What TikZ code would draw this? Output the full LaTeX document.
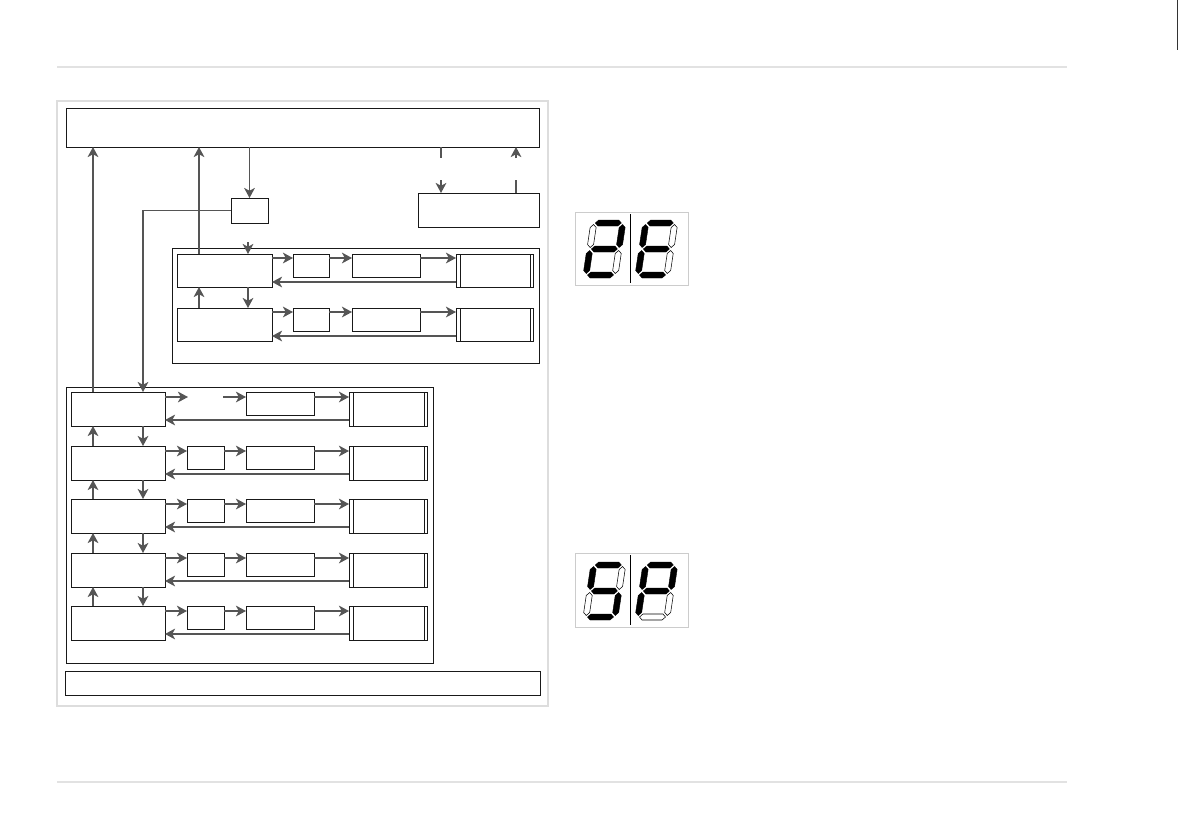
\documentclass[tikz,border=0pt]{standalone}
\usetikzlibrary{arrows.meta,fit,calc}
\definecolor{arrcol}{HTML}{555555}
\definecolor{framecol}{HTML}{DDDDDD}
\definecolor{rulecol}{HTML}{E2E2E2}
\definecolor{dispcol}{HTML}{CCCCCC}
\tikzset{
 bx/.style={draw=black!90, line width=0.7pt, inner sep=0pt, outer sep=0pt},
 arr/.style={draw=arrcol, line width=1.2pt, -{Stealth[length=7.5pt,width=8pt,inset=2pt]}},
 ln/.style={draw=arrcol, line width=1.2pt},
 segon/.style={fill=black, draw=black, line width=0.3pt},
 segoff/.style={fill=white, draw=black, line width=0.4pt},
 framebx/.style={draw=framecol, line width=0.8pt, inner sep=0pt, outer sep=0pt},
 dispbx/.style={draw=dispcol, line width=0.6pt, inner sep=0pt, outer sep=0pt},
}
\newcommand{\mkbox}[5]{\node[bx, fit={(#2,#3) (#4,#5)}] (#1) {};}
\newcommand{\mkdbox}[5]{\mkbox{#1}{#2}{#3}{#4}{#5}%
 \draw[black!90, line width=0.7pt] ([xshift=3pt]#1.north west) -- ([xshift=3pt]#1.south west);%
 \draw[black!90, line width=0.7pt] ([xshift=-2.25pt]#1.north east) -- ([xshift=-2.25pt]#1.south east);}
\newcommand{\hseg}[2]{\path[#1] (1.5,#2) -- (4.5,#2+3) -- (24.5,#2+3) -- (27.5,#2) -- (24.5,#2-3) -- (4.5,#2-3) -- cycle;}
\newcommand{\vseg}[3]{\path[#1] (#2,#3) -- (#2+3,#3+3) -- (#2+3,#3+20) -- (#2,#3+23) -- (#2-3,#3+20) -- (#2-3,#3+3) -- cycle;}
\newcommand{\segdigit}[9]{%
 \begin{scope}[shift={(#1,#2)}, yscale=-1, xslant=-0.15]
 \hseg{#3}{52} \vseg{#4}{29}{27.5} \vseg{#5}{29}{1.5} \hseg{#6}{0}
 \vseg{#7}{0}{1.5} \vseg{#8}{0}{27.5} \hseg{#9}{26}
 \end{scope}}
\begin{document}
\begin{tikzpicture}[x=0.75pt,y=-0.75pt]
\useasboundingbox (0,0) rectangle (1191,839);
% page rules
\coordinate (hl) at (57,67); \coordinate (hr) at (1067,67);
\coordinate (fl) at (57,782); \coordinate (fr) at (1067,782);
\draw[rulecol, line width=0.8pt] (hl) -- (hr);
\draw[rulecol, line width=0.8pt] (fl) -- (fr);
\coordinate (ct) at (1177,0); \coordinate (cb) at (1177,50);
\draw[black!80, line width=0.6pt] (ct) -- (cb);
% outer frame
\node[framebx, fit={(57,101) (548,706)}] (F) {};
% top and bottom boxes
\mkbox{T}{66}{108}{539}{147}
\mkbox{Bt}{65}{671}{540}{695}
\mkbox{S}{231}{198}{268}{223}
\mkbox{R}{418}{193}{539}{227}
% group 1
\mkbox{G1}{172}{248}{539}{363}
\foreach \n/\t in {A/254,B/308}{
 \mkbox{\n}{177}{\t}{272}{\t+33}
 \mkbox{\n s}{293}{\t}{329}{\t+23}
 \mkbox{\n m}{352}{\t}{420}{\t+23}
 \mkdbox{\n r}{456}{\t}{533}{\t+33}
 \draw[arr] ($(\n.north east)+(0,4)$) -- ($(\n s.north west)+(0,4)$);
 \draw[arr] ($(\n s.north east)+(0,4)$) -- ($(\n m.north west)+(0,4)$);
 \draw[arr] ($(\n m.north east)+(0,4)$) -- ($(\n r.north west)+(0,4)$);
 \draw[arr] ($(\n r.north west)+(0,28)$) -- ($(\n.north east)+(0,28)$);
}
\draw[arr] ($(B.north west)+(22,0)$) -- ($(A.south west)+(22,0)$);
\draw[arr] ($(A.south west)+(71,0)$) -- ($(B.north west)+(71,0)$);
% group 2
\mkbox{G2}{66}{387}{433}{663}
\mkbox{L1}{71}{392}{165}{426}
\mkbox{Lm1}{246}{392}{314}{415}
\mkdbox{Lr1}{349}{392}{427}{426}
\coordinate (g1) at (188,397); \coordinate (g2) at (223,397);
\draw[arr] ($(L1.north east)+(0,5)$) -- (g1);
\draw[arr] (g2) -- ($(Lm1.north west)+(0,5)$);
\draw[arr] ($(Lm1.north east)+(0,5)$) -- ($(Lr1.north west)+(0,5)$);
\draw[arr] ($(Lr1.north west)+(0,28)$) -- ($(L1.north east)+(0,28)$);
\foreach \n/\t in {2/446,3/499,4/553,5/606}{
 \mkbox{L\n}{71}{\t}{165}{\t+34}
 \mkbox{Ls\n}{187}{\t}{224}{\t+23}
 \mkbox{Lm\n}{246}{\t}{314}{\t+23}
 \mkdbox{Lr\n}{349}{\t}{427}{\t+34}
 \draw[arr] ($(L\n.north east)+(0,5)$) -- ($(Ls\n.north west)+(0,5)$);
 \draw[arr] ($(Ls\n.north east)+(0,5)$) -- ($(Lm\n.north west)+(0,5)$);
 \draw[arr] ($(Lm\n.north east)+(0,5)$) -- ($(Lr\n.north west)+(0,5)$);
 \draw[arr] ($(Lr\n.north west)+(0,28)$) -- ($(L\n.north east)+(0,28)$);
}
\foreach \a/\b in {1/2,2/3,3/4,4/5}{
 \draw[arr] ($(L\b.north west)+(22,0)$) -- ($(L\a.south west)+(22,0)$);
 \draw[arr] ($(L\a.south west)+(72,0)$) -- ($(L\b.north west)+(72,0)$);
}
% top connections
\draw[arr] (T.south -| S.north) -- (S.north);
\draw[arr] (S.west) -| ($(L1.north west)+(72,0)$);
\coordinate (u1) at ($(L1.north west)+(22,0)$);
\draw[arr] (u1) -- (u1 |- T.south);
\coordinate (u2) at ($(A.north west)+(22,0)$);
\draw[arr] (u2) -- (u2 |- T.south);
\coordinate (stubA) at (248,242);
\draw[arr] (stubA) -- (stubA |- A.north);
\coordinate (b1) at (441,158); \coordinate (b2) at (441,180);
\draw[ln] (b1 |- T.south) -- (b1);
\draw[arr] (b2) -- (b2 |- R.north);
\coordinate (c1) at (516,158); \coordinate (c2) at (516,180);
\draw[arr] (c1) -- (c1 |- T.south);
\draw[ln] (c2 |- R.north) -- (c2);
% seven-segment displays
\node[dispbx, fit={(575,212) (688,285)}] (D1) {};
\coordinate (d1t) at (630,214); \coordinate (d1b) at (630,283);
\draw[black, line width=0.6pt] (d1t) -- (d1b);
\segdigit{586}{275}{segon}{segon}{segoff}{segon}{segon}{segoff}{segon}
\segdigit{638}{275}{segon}{segoff}{segoff}{segon}{segon}{segon}{segon}
\node[dispbx, fit={(575,553) (688,627)}] (D2) {};
\coordinate (d2t) at (630,555); \coordinate (d2b) at (630,625);
\draw[black, line width=0.6pt] (d2t) -- (d2b);
\segdigit{586}{617}{segon}{segoff}{segon}{segon}{segoff}{segon}{segon}
\segdigit{638}{617}{segon}{segon}{segoff}{segoff}{segon}{segon}{segon}
\end{tikzpicture}
\end{document}
